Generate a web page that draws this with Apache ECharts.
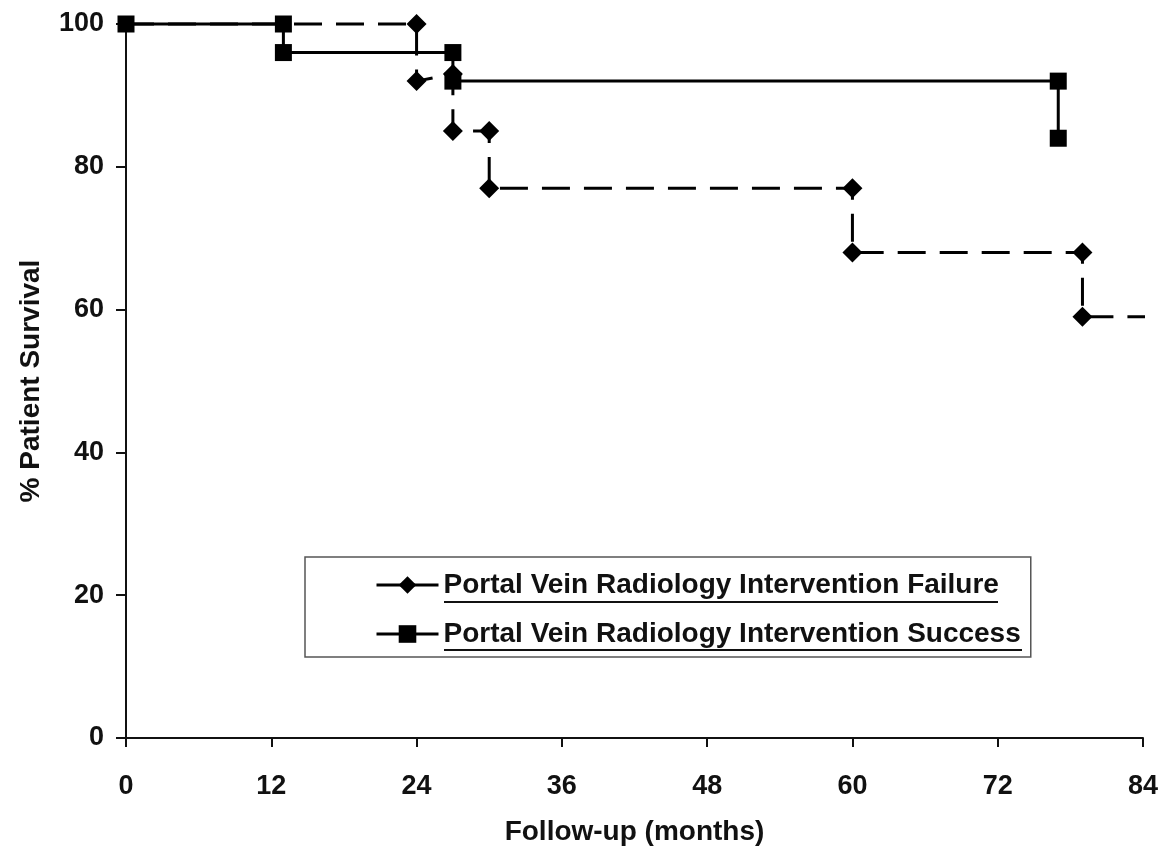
<!DOCTYPE html>
<html>
<head>
<meta charset="utf-8">
<script src="https://cdn.jsdelivr.net/npm/echarts@6/dist/echarts.min.js"></script>
<style>
  html, body { margin: 0; padding: 0; background: #fff; }
  #survivalChart { width: 1163px; height: 849px; }
</style>
</head>
<body>
<div id="survivalChart"></div>
<script>
// Kaplan-Meier steps
const monthsFailure = [0, 24, 24, 27, 27, 30, 30, 60, 60, 79, 79, 86];
const survivalFailure = [100, 100, 92, 93, 85, 85, 77, 77, 68, 68, 59, 59];

const monthsSuccess = [0, 13, 13, 27, 27, 77, 77];
const survivalSuccess = [100, 100, 96, 96, 92, 92, 84];

const xTicks = [0, 12, 24, 36, 48, 60, 72, 84];
const yTicks = [0, 20, 40, 60, 80, 100];

const nameFailure = 'Portal Vein Radiology Intervention Failure';
const nameSuccess = 'Portal Vein Radiology Intervention Success';

const font = "'Liberation Sans', Arial, sans-serif";

// first and last failure points carry no marker
const failureData = monthsFailure.map((m, i) => {
  const item = { value: [m, survivalFailure[i]] };
  if (i === 0 || i === monthsFailure.length - 1) item.symbol = 'none';
  return item;
});
const successData = monthsSuccess.map((m, i) => [m, survivalSuccess[i]]);

const chart = echarts.init(document.getElementById('survivalChart'));

const option = {
  backgroundColor: '#fff',
  animation: false,
  grid: { left: 126, right: 20, top: 24, bottom: 111, outerBoundsMode: 'none' },
  xAxis: {
    type: 'value',
    min: xTicks[0],
    max: xTicks[xTicks.length - 1],
    interval: 12,
    name: 'Follow-up (months)',
    nameLocation: 'middle',
    nameGap: 80,
    nameTextStyle: { fontFamily: font, fontWeight: 'bold', fontSize: 28, color: '#111' },
    axisLine: { lineStyle: { color: '#111', width: 2 } },
    axisTick: { inside: false, length: 9, lineStyle: { color: '#111', width: 2 } },
    axisLabel: { margin: 35, fontFamily: font, fontWeight: 'bold', fontSize: 27, color: '#111' },
    splitLine: { show: false }
  },
  yAxis: {
    type: 'value',
    min: yTicks[0],
    max: yTicks[yTicks.length - 1],
    interval: 20,
    name: '% Patient Survival',
    nameLocation: 'middle',
    nameGap: 81,
    nameTextStyle: { fontFamily: font, fontWeight: 'bold', fontSize: 28, color: '#111' },
    axisLine: { show: true, lineStyle: { color: '#111', width: 2 } },
    axisTick: { show: true, inside: false, length: 10, lineStyle: { color: '#111', width: 2 } },
    axisLabel: { margin: 22, fontFamily: font, fontWeight: 'bold', fontSize: 27, color: '#111' },
    splitLine: { show: false }
  },
  legend: {
    orient: 'vertical',
    left: 305,
    top: 557,
    padding: [13, 10, 8, 70],
    itemGap: 19,
    itemWidth: 62,
    itemHeight: 22,
    borderColor: '#555',
    borderWidth: 1.5,
    backgroundColor: '#fff',
    itemStyle: { color: '#000' },
    lineStyle: { type: 'solid', width: 3, color: '#000' },
    textStyle: { fontFamily: font, fontWeight: 'bold', fontSize: 28, lineHeight: 30, color: '#111', padding: [0, 0, 0, 0] },
    data: [nameFailure, nameSuccess]
  },
  series: [
    {
      name: nameFailure,
      type: 'line',
      data: failureData,
      clip: false,
      symbol: 'diamond',
      symbolSize: 20,
      itemStyle: { color: '#000' },
      lineStyle: { color: '#000', width: 3, type: [28, 14] },
      z: 2
    },
    {
      name: nameSuccess,
      type: 'line',
      data: successData,
      clip: false,
      symbol: 'rect',
      symbolSize: 17,
      itemStyle: { color: '#000' },
      lineStyle: { color: '#000', width: 3, type: 'solid' },
      z: 3
    }
  ],
  // underlines under the legend labels
  graphic: [
    { type: 'line', z: 100, shape: { x1: 444, y1: 602, x2: 998, y2: 602 }, style: { stroke: '#111', lineWidth: 2 } },
    { type: 'line', z: 100, shape: { x1: 444, y1: 650, x2: 1022, y2: 650 }, style: { stroke: '#111', lineWidth: 2 } }
  ]
};

chart.setOption(option);
</script>
</body>
</html>
